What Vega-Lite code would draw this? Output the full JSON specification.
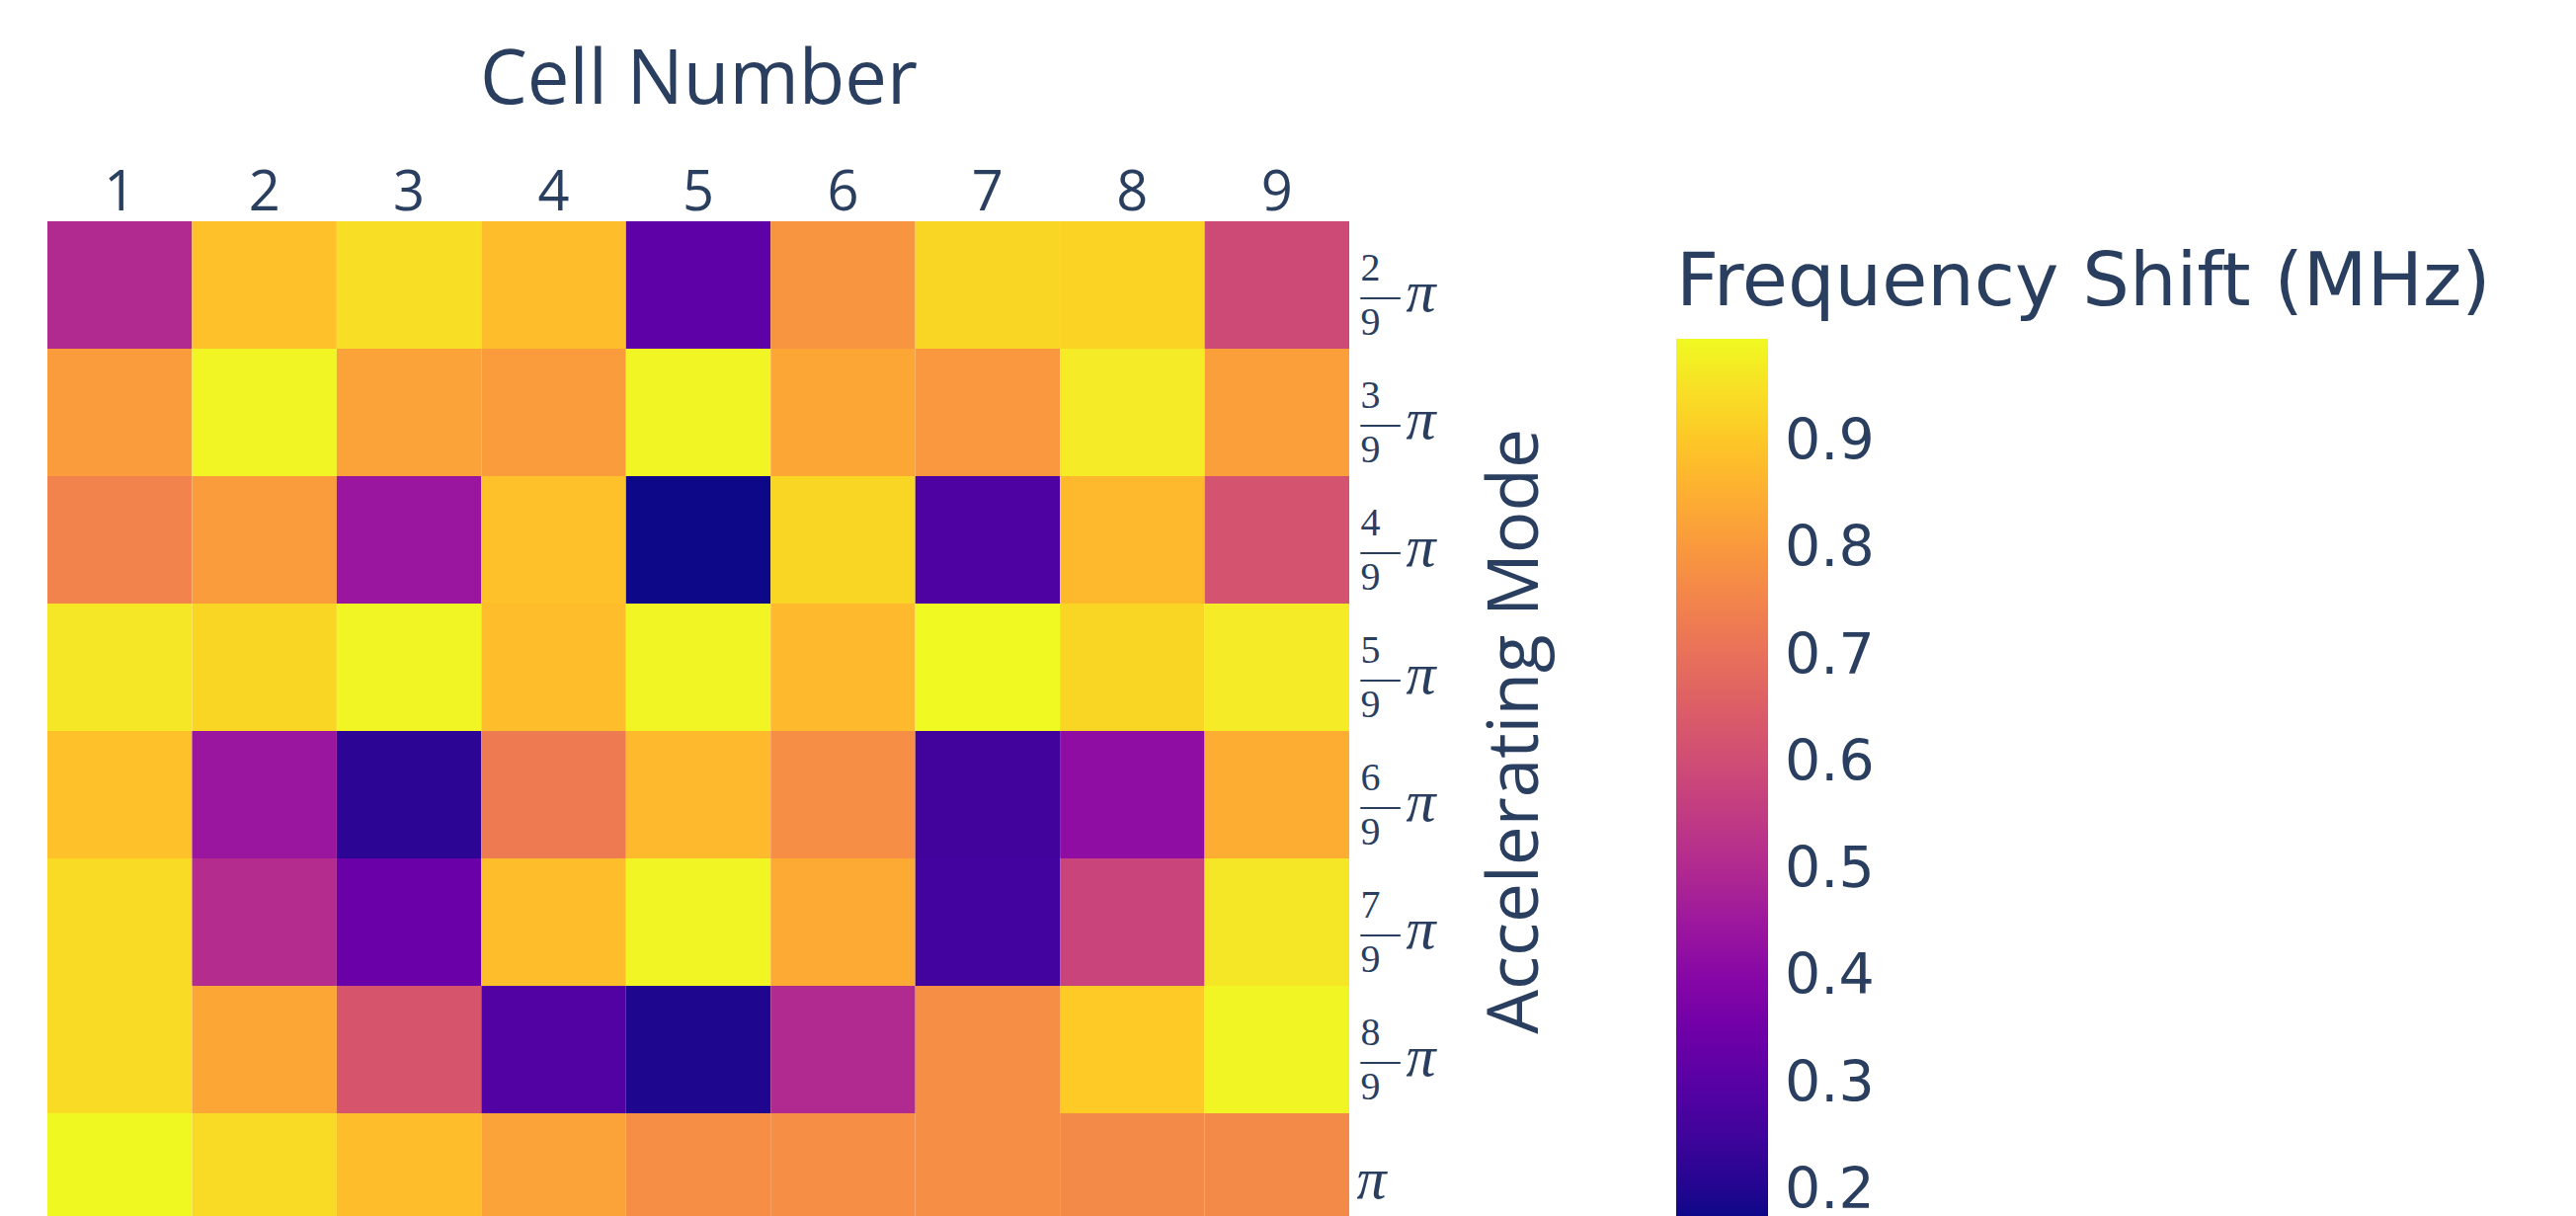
{
  "$schema": "https://vega.github.io/schema/vega-lite/v6.json",
  "autosize": "none",
  "padding": {"left": 48, "top": 224, "right": 1242, "bottom": -25},
  "width": 1318,
  "height": 1032,
  "background": "white",
  "data": {"values": [
    {"cell": 1, "mode": "2π/9", "shift": 0.504}, {"cell": 2, "mode": "2π/9", "shift": 0.890}, {"cell": 3, "mode": "2π/9", "shift": 0.948},
    {"cell": 4, "mode": "2π/9", "shift": 0.882}, {"cell": 5, "mode": "2π/9", "shift": 0.315}, {"cell": 6, "mode": "2π/9", "shift": 0.792},
    {"cell": 7, "mode": "2π/9", "shift": 0.931}, {"cell": 8, "mode": "2π/9", "shift": 0.925}, {"cell": 9, "mode": "2π/9", "shift": 0.594},
    {"cell": 1, "mode": "3π/9", "shift": 0.808}, {"cell": 2, "mode": "3π/9", "shift": 0.989}, {"cell": 3, "mode": "3π/9", "shift": 0.824},
    {"cell": 4, "mode": "3π/9", "shift": 0.808}, {"cell": 5, "mode": "3π/9", "shift": 0.989}, {"cell": 6, "mode": "3π/9", "shift": 0.833},
    {"cell": 7, "mode": "3π/9", "shift": 0.800}, {"cell": 8, "mode": "3π/9", "shift": 0.972}, {"cell": 9, "mode": "3π/9", "shift": 0.816},
    {"cell": 1, "mode": "4π/9", "shift": 0.750}, {"cell": 2, "mode": "4π/9", "shift": 0.808}, {"cell": 3, "mode": "4π/9", "shift": 0.446},
    {"cell": 4, "mode": "4π/9", "shift": 0.890}, {"cell": 5, "mode": "4π/9", "shift": 0.175}, {"cell": 6, "mode": "4π/9", "shift": 0.931},
    {"cell": 7, "mode": "4π/9", "shift": 0.282}, {"cell": 8, "mode": "4π/9", "shift": 0.874}, {"cell": 9, "mode": "4π/9", "shift": 0.619},
    {"cell": 1, "mode": "5π/9", "shift": 0.964}, {"cell": 2, "mode": "5π/9", "shift": 0.931}, {"cell": 3, "mode": "5π/9", "shift": 0.989},
    {"cell": 4, "mode": "5π/9", "shift": 0.882}, {"cell": 5, "mode": "5π/9", "shift": 0.989}, {"cell": 6, "mode": "5π/9", "shift": 0.874},
    {"cell": 7, "mode": "5π/9", "shift": 0.997}, {"cell": 8, "mode": "5π/9", "shift": 0.931}, {"cell": 9, "mode": "5π/9", "shift": 0.972},
    {"cell": 1, "mode": "6π/9", "shift": 0.890}, {"cell": 2, "mode": "6π/9", "shift": 0.446}, {"cell": 3, "mode": "6π/9", "shift": 0.219},
    {"cell": 4, "mode": "6π/9", "shift": 0.726}, {"cell": 5, "mode": "6π/9", "shift": 0.874}, {"cell": 6, "mode": "6π/9", "shift": 0.775},
    {"cell": 7, "mode": "6π/9", "shift": 0.257}, {"cell": 8, "mode": "6π/9", "shift": 0.422}, {"cell": 9, "mode": "6π/9", "shift": 0.849},
    {"cell": 1, "mode": "7π/9", "shift": 0.939}, {"cell": 2, "mode": "7π/9", "shift": 0.512}, {"cell": 3, "mode": "7π/9", "shift": 0.339},
    {"cell": 4, "mode": "7π/9", "shift": 0.882}, {"cell": 5, "mode": "7π/9", "shift": 0.989}, {"cell": 6, "mode": "7π/9", "shift": 0.841},
    {"cell": 7, "mode": "7π/9", "shift": 0.260}, {"cell": 8, "mode": "7π/9", "shift": 0.578}, {"cell": 9, "mode": "7π/9", "shift": 0.964},
    {"cell": 1, "mode": "8π/9", "shift": 0.939}, {"cell": 2, "mode": "8π/9", "shift": 0.833}, {"cell": 3, "mode": "8π/9", "shift": 0.627},
    {"cell": 4, "mode": "8π/9", "shift": 0.288}, {"cell": 5, "mode": "8π/9", "shift": 0.197}, {"cell": 6, "mode": "8π/9", "shift": 0.504},
    {"cell": 7, "mode": "8π/9", "shift": 0.775}, {"cell": 8, "mode": "8π/9", "shift": 0.907}, {"cell": 9, "mode": "8π/9", "shift": 0.989},
    {"cell": 1, "mode": "π", "shift": 0.995}, {"cell": 2, "mode": "π", "shift": 0.939}, {"cell": 3, "mode": "π", "shift": 0.882},
    {"cell": 4, "mode": "π", "shift": 0.824}, {"cell": 5, "mode": "π", "shift": 0.775}, {"cell": 6, "mode": "π", "shift": 0.775},
    {"cell": 7, "mode": "π", "shift": 0.775}, {"cell": 8, "mode": "π", "shift": 0.767}, {"cell": 9, "mode": "π", "shift": 0.767}
  ]},
  "encoding": {
    "x": {
      "field": "cell", "type": "ordinal",
      "scale": {"paddingInner": 0, "paddingOuter": 0},
      "axis": {
        "orient": "top", "domain": false, "ticks": false, "tickSize": 0, "grid": false,
        "labelAngle": 0, "labelFont": "Open Sans", "labelFontSize": 56, "labelColor": "#2a3f5f",
        "labelBaseline": "alphabetic", "labelPadding": 12,
        "title": "Cell Number", "titleFont": "Open Sans", "titleFontSize": 76, "titleFontWeight": "normal",
        "titleColor": "#2a3f5f", "titleBaseline": "alphabetic", "titleY": -120
      }
    }
  },
  "layer": [
    {
      "mark": {"type": "rect"},
      "encoding": {
        "y": {
          "field": "mode", "type": "ordinal",
          "sort": ["2π/9", "3π/9", "4π/9", "5π/9", "6π/9", "7π/9", "8π/9", "π"],
          "scale": {"paddingInner": 0, "paddingOuter": 0},
          "axis": {
            "orient": "right", "domain": false, "ticks": false, "tickSize": 0, "grid": false,
            "labelExpr": "datum.value == 'π' ? '' : ['\u00a0' + substring(datum.value, 0, 1), '\u2014', '\u00a09']",
            "labelFont": "Liberation Serif", "labelFontSize": 40, "labelLineHeight": 27.5,
            "labelColor": "#2a3f5f", "labelAlign": "left", "labelBaseline": "middle",
            "labelPadding": 11, "labelOffset": -17,
            "title": "Accelerating Mode", "titleFont": "Open Sans", "titleFontSize": 71, "titleFontWeight": "normal",
            "titleColor": "#2a3f5f", "titleAngle": 270, "titleBaseline": "alphabetic", "titleAlign": "center",
            "titleX": 190, "titleY": 516
          }
        },
        "color": {
          "field": "shift", "type": "quantitative",
          "scale": {"scheme": "plasma", "domain": [0.175, 0.997]},
          "legend": {
            "orient": "none", "legendX": 1649, "legendY": 26, "direction": "vertical",
            "padding": 0, "title": "Frequency Shift (MHz)", "titleFont": "DejaVu Sans", "titleFontSize": 75,
            "titleFontWeight": "normal", "titleColor": "#2a3f5f", "titleLimit": 0, "titlePadding": 18,
            "titleBaseline": "top", "titleAnchor": "start",
            "gradientLength": 890, "gradientThickness": 93, "gradientStrokeWidth": 0,
            "values": [0.2, 0.3, 0.4, 0.5, 0.6, 0.7, 0.8, 0.9], "format": ".1f",
            "labelFont": "DejaVu Sans", "labelFontSize": 57, "labelColor": "#2a3f5f",
            "labelOffset": 17, "labelOverlap": false, "labelLimit": 0
          }
        }
      }
    },
    {
      "mark": {"type": "rect", "opacity": 0},
      "encoding": {
        "y": {
          "field": "mode", "type": "ordinal",
          "sort": ["2π/9", "3π/9", "4π/9", "5π/9", "6π/9", "7π/9", "8π/9", "π"],
          "scale": {"paddingInner": 0, "paddingOuter": 0},
          "axis": {
            "orient": "right", "domain": false, "ticks": false, "tickSize": 0, "grid": false,
            "labelExpr": "'π'",
            "labelFont": "Liberation Serif", "labelFontStyle": "italic", "labelFontSize": 60,
            "labelColor": "#2a3f5f", "labelAlign": "left", "labelBaseline": "middle",
            "labelPadding": {"condition": {"test": "datum.value == 'π'", "value": 7}, "value": 57},
            "labelOffset": {"condition": {"test": "datum.value == 'π'", "value": 3}, "value": 8},
            "title": null
          }
        }
      }
    }
  ],
  "resolve": {"axis": {"y": "independent"}},
  "config": {"view": {"stroke": null}}
}
